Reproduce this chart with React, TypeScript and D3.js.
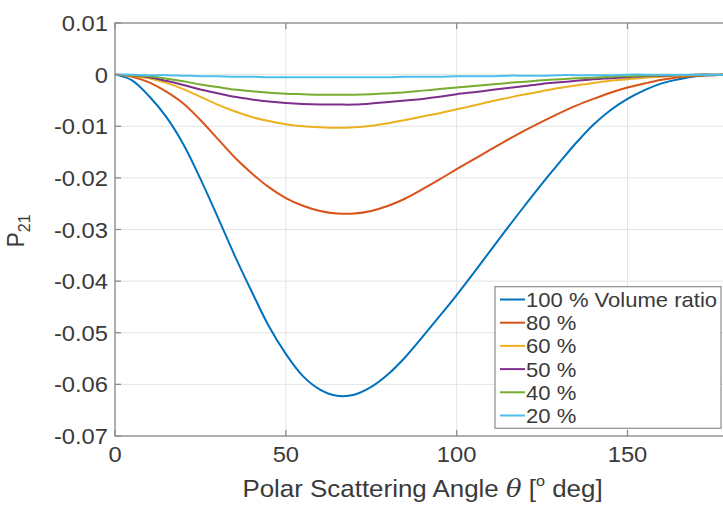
import React from "react";
import * as d3 from "d3";

const angles = [0,5,10,15,20,25,30,35,40,45,50,55,60,65,70,75,80,85,90,95,100,105,110,115,120,125,130,135,140,145,150,155,160,165,170,175,180];

const v100 = [0,-0.0011,-0.0042,-0.0082,-0.0135,-0.0202,-0.0275,-0.0350,-0.0420,-0.0487,-0.0541,-0.0584,-0.0610,-0.0622,-0.0620,-0.0605,-0.0580,-0.0547,-0.0508,-0.0468,-0.0427,-0.0384,-0.0340,-0.0296,-0.0253,-0.0211,-0.0171,-0.0132,-0.0097,-0.0069,-0.0047,-0.0030,-0.0017,-0.0009,-0.0003,-0.0001,0];
const v80 = [0,-0.0004,-0.0015,-0.0033,-0.0056,-0.0088,-0.0124,-0.0160,-0.0191,-0.0218,-0.0239,-0.0254,-0.0264,-0.0269,-0.0269,-0.0264,-0.0254,-0.0240,-0.0222,-0.0203,-0.0183,-0.0164,-0.0145,-0.0126,-0.0108,-0.0091,-0.0075,-0.0060,-0.0047,-0.0035,-0.0025,-0.0017,-0.0010,-0.0005,-0.0002,-0.0001,0];
const v60 = [0,-0.0002,-0.0007,-0.0016,-0.0028,-0.0043,-0.0058,-0.0071,-0.0082,-0.0090,-0.0096,-0.0100,-0.0102,-0.0103,-0.0102,-0.0099,-0.0094,-0.0088,-0.0081,-0.0075,-0.0067,-0.0060,-0.0052,-0.0045,-0.0038,-0.0032,-0.0026,-0.0021,-0.0016,-0.0012,-0.0009,-0.0006,-0.0004,-0.0002,-0.0001,0,0];
const v50 = [0,-0.0001,-0.0005,-0.0012,-0.0020,-0.0029,-0.0036,-0.0043,-0.0048,-0.0052,-0.0055,-0.0057,-0.0058,-0.0058,-0.0058,-0.0056,-0.0053,-0.0050,-0.0047,-0.0043,-0.0038,-0.0034,-0.0030,-0.0026,-0.0022,-0.0018,-0.0015,-0.0012,-0.0009,-0.0007,-0.0005,-0.0003,-0.0002,-0.0001,0,0,0];
const v40 = [0,-0.0001,-0.0003,-0.0008,-0.0013,-0.0019,-0.0024,-0.0029,-0.0032,-0.0035,-0.0037,-0.0038,-0.0039,-0.0039,-0.0039,-0.0038,-0.0036,-0.0034,-0.0031,-0.0028,-0.0025,-0.0022,-0.0019,-0.0016,-0.0014,-0.0011,-0.0009,-0.0007,-0.0006,-0.0004,-0.0003,-0.0002,-0.0001,-0.0001,0,0,0];
const v20 = [0,0,-0.0001,-0.0001,-0.0002,-0.0003,-0.0003,-0.0004,-0.0004,-0.0005,-0.0005,-0.0005,-0.0005,-0.0005,-0.0005,-0.0005,-0.0005,-0.0004,-0.0004,-0.0004,-0.0003,-0.0003,-0.0003,-0.0002,-0.0002,-0.0002,-0.0001,-0.0001,-0.0001,-0.0001,0,0,0,0,0,0,0];

const seriesLabels = ["100 % Volume ratio", "80 %", "60 %", "50 %", "40 %", "20 %"];
const seriesColors = ["#0072BD", "#D95319", "#EDB120", "#7E2F8E", "#77AC30", "#4DBEEE"];
const seriesValues = [v100, v80, v60, v50, v40, v20];

const xTicks = [0, 50, 100, 150];
const yTicks = [0.01, 0, -0.01, -0.02, -0.03, -0.04, -0.05, -0.06, -0.07];
const yTickLabels = ["0.01", "0", "-0.01", "-0.02", "-0.03", "-0.04", "-0.05", "-0.06", "-0.07"];

const W = 723, H = 508;
const L = 115, R = 730, T = 23, B = 436;
const FONT = "'Liberation Sans', Arial, Helvetica, sans-serif";
const TXT = "#3a3a3a";
const AX = "#8c8c8c";

function SText({ x, y, sx = 1, anchor = "start", size, children }: any) {
  return (
    <text transform={`translate(${x},${y}) scale(${sx},1)`} textAnchor={anchor} fontSize={size} fill={TXT}>
      {children}
    </text>
  );
}

export default function App() {
  const x = d3.scaleLinear().domain([0, 180]).range([L, R]);
  const y = d3.scaleLinear().domain([-0.07, 0.01]).range([B, T]);
  const line = d3.line<number>()
    .x((_, i) => x(angles[i]))
    .y((d) => y(d))
    .curve(d3.curveCatmullRom.alpha(0.5));

  const legX = 495, legY = 286.7, legW = 226, legH = 141.6;
  const rowH = 23.2;

  return (
    <svg width={W} height={H} viewBox={`0 0 ${W} ${H}`}
      style={{ position: "absolute", left: 0, top: 0, background: "#fff" }}
      fontFamily={FONT}>
      <rect x={0} y={0} width={W} height={H} fill="#fff" />
      {xTicks.map((t) => (
        <line key={"gx" + t} x1={x(t)} x2={x(t)} y1={T} y2={B} stroke="#e4e4e4" strokeWidth={1} />
      ))}
      {yTicks.map((t) => (
        <line key={"gy" + t} x1={L} x2={R} y1={y(t)} y2={y(t)} stroke="#e4e4e4" strokeWidth={1} />
      ))}
      {seriesValues.map((vals, i) => (
        <path key={"s" + i} d={line(vals) || ""} fill="none" stroke={seriesColors[i]} strokeWidth={2} />
      ))}
      <rect x={L} y={T} width={R - L} height={B - T} fill="none" stroke={AX} strokeWidth={1.3} />
      {xTicks.map((t) => (
        <g key={"tx" + t}>
          <line x1={x(t)} x2={x(t)} y1={B} y2={B - 6} stroke={AX} strokeWidth={1.3} />
          <line x1={x(t)} x2={x(t)} y1={T} y2={T + 6} stroke={AX} strokeWidth={1.3} />
          <SText x={x(t)} y={B + 25.5} sx={1.08} anchor="middle" size={22}>{t}</SText>
        </g>
      ))}
      {yTicks.map((t, i) => (
        <g key={"ty" + t}>
          <line x1={L} x2={L + 6} y1={y(t)} y2={y(t)} stroke={AX} strokeWidth={1.3} />
          <SText x={L - 7} y={y(t) + 8} sx={1.08} anchor="end" size={22}>{yTickLabels[i]}</SText>
        </g>
      ))}
      <SText x={(L + R) / 2} y={497} sx={1.08} anchor="middle" size={24}>
        Polar Scattering Angle <tspan fontStyle="italic" fontFamily="'DejaVu Serif', serif">θ</tspan> [
        <tspan fontSize={15} dy={-11}>o</tspan>
        <tspan dy={11}> deg]</tspan>
      </SText>
      <text transform={`translate(23.5, 231) rotate(-90)`} textAnchor="middle" fontSize={23} fill={TXT}>
        P<tspan fontSize={16} dy={6}>21</tspan>
      </text>
      <rect x={legX} y={legY} width={legW} height={legH} fill="#fff" stroke={AX} strokeWidth={1.2} />
      {seriesLabels.map((lab, i) => {
        const cy = legY + 12.8 + i * rowH;
        return (
          <g key={"lg" + i}>
            <line x1={500} x2={525} y1={cy} y2={cy} stroke={seriesColors[i]} strokeWidth={2} />
            <SText x={526} y={cy + 7.5} sx={1.05} size={21}>{lab}</SText>
          </g>
        );
      })}
    </svg>
  );
}
